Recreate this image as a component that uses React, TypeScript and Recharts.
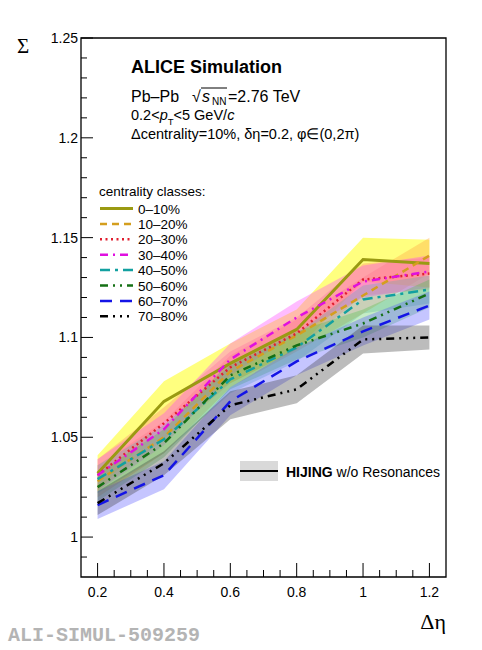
import {
  ComposedChart,
  Line,
  Area,
  XAxis,
  YAxis,
  ReferenceArea,
} from 'recharts';

// Δη gap values
const etaGaps = [0.2, 0.4, 0.6, 0.8, 1.0, 1.2];

// Σ per centrality class
const sigma0to10 = [1.032, 1.068, 1.087, 1.104, 1.139, 1.137];
const sigma10to20 = [1.028, 1.050, 1.083, 1.101, 1.121, 1.141];
const sigma20to30 = [1.031, 1.057, 1.085, 1.102, 1.129, 1.132];
const sigma30to40 = [1.031, 1.054, 1.089, 1.110, 1.128, 1.133];
const sigma40to50 = [1.029, 1.049, 1.079, 1.095, 1.119, 1.124];
const sigma50to60 = [1.025, 1.047, 1.081, 1.096, 1.107, 1.122];
const sigma60to70 = [1.016, 1.031, 1.068, 1.088, 1.103, 1.116];
const sigma70to80 = [1.017, 1.037, 1.066, 1.074, 1.099, 1.100];

// half-widths of the shaded bands
const err0to10 = [0.009, 0.010, 0.010, 0.010, 0.011, 0.012];
const err10to20 = [0.008, 0.008, 0.008, 0.008, 0.009, 0.009];
const err20to30 = [0.008, 0.008, 0.008, 0.008, 0.008, 0.008];
const err30to40 = [0.008, 0.008, 0.008, 0.008, 0.008, 0.008];
const err40to50 = [0.007, 0.007, 0.007, 0.007, 0.007, 0.007];
const err50to60 = [0.007, 0.007, 0.007, 0.007, 0.007, 0.007];
const err60to70 = [0.007, 0.007, 0.007, 0.007, 0.007, 0.007];
const err70to80 = [0.006, 0.006, 0.007, 0.007, 0.007, 0.006];

const classLabels = ['0–10%', '10–20%', '20–30%', '30–40%', '40–50%', '50–60%', '60–70%', '70–80%'];

const yMajorTicks = [1, 1.05, 1.1, 1.15, 1.2, 1.25];
const yTickLabels = ['1', '1.05', '1.1', '1.15', '1.2', '1.25'];
const xMajorTicks = [0.2, 0.4, 0.6, 0.8, 1.0, 1.2];
const xTickLabels = ['0.2', '0.4', '0.6', '0.8', '1', '1.2'];

const classes = [
  { values: sigma0to10, err: err0to10, color: '#9a9a12', dash: undefined, width: 3, band: '#ffff00', op: 0.5 },
  { values: sigma10to20, err: err10to20, color: '#d49e1e', dash: '7 5', width: 2.5, band: '#ffa040', op: 0.35 },
  { values: sigma20to30, err: err20to30, color: '#e01e2e', dash: '2 3.5', width: 2.5, band: '#ff7070', op: 0.3 },
  { values: sigma30to40, err: err30to40, color: '#e010e0', dash: '8 5 2 5', width: 2.5, band: '#ff40ff', op: 0.35 },
  { values: sigma40to50, err: err40to50, color: '#12a0a0', dash: '10 5 3 5', width: 2.5, band: '#50b0b0', op: 0.3 },
  { values: sigma50to60, err: err50to60, color: '#157015', dash: '8 5 2 5 2 5', width: 2.5, band: '#40c040', op: 0.3 },
  { values: sigma60to70, err: err60to70, color: '#1414e6', dash: '12 8', width: 2.5, band: '#5050ff', op: 0.33 },
  { values: sigma70to80, err: err70to80, color: '#000000', dash: '8 5 2 5 2 5 2 5', width: 2.5, band: '#404040', op: 0.35 },
];

const rows = etaGaps.map((eta, i) => {
  const row: Record<string, any> = { eta };
  classes.forEach((c, k) => {
    row['s' + k] = c.values[i];
    row['b' + k] = [c.values[i] - c.err[i], c.values[i] + c.err[i]];
  });
  return row;
});

const steps = (from: number, to: number, step: number) => {
  const out: number[] = [];
  for (let v = from; v <= to + 1e-9; v += step) out.push(Math.round(v * 1000) / 1000);
  return out;
};
const yTicks = steps(0.99, 1.25, 0.01);
const xTicks = steps(0.2, 1.2, 0.05);

const near = (a: number, b: number) => Math.abs(a - b) < 1e-6;
const sans = 'Liberation Sans, Arial, sans-serif';
const serif = 'Liberation Serif, Times New Roman, serif';

const YTick = ({ x, y, payload }: any) => {
  const idx = yMajorTicks.findIndex((t) => near(t, payload.value));
  const major = idx >= 0;
  return (
    <g>
      <line x1={x} x2={x + (major ? 12 : 6)} y1={y} y2={y} stroke="#000" strokeWidth={1} />
      {major && (
        <text x={x - 3} y={y + 5} textAnchor="end" fontFamily={sans} fontSize={14} fill="#000">
          {yTickLabels[idx]}
        </text>
      )}
    </g>
  );
};

const XTick = ({ x, y, payload }: any) => {
  const idx = xMajorTicks.findIndex((t) => near(t, payload.value));
  const major = idx >= 0;
  return (
    <g>
      <line x1={x} x2={x} y1={y} y2={y - (major ? 14 : 7)} stroke="#000" strokeWidth={1} />
      {major && (
        <text x={x} y={y + 20} textAnchor="middle" fontFamily={sans} fontSize={14} fill="#000">
          {xTickLabels[idx]}
        </text>
      )}
    </g>
  );
};

function Overlay() {
  const legendTop = 208.5;
  const legendStep = 15.4;
  return (
    <svg
      width={482}
      height={650}
      style={{ position: 'absolute', left: 0, top: 0, pointerEvents: 'none' }}
    >
      <text x={17} y={53} fontFamily={serif} fontSize={21}>Σ</text>
      <text x={446} y={629} textAnchor="end" fontFamily={serif} fontSize={22}>Δη</text>

      <text x={131} y={73} fontFamily={sans} fontSize={18} fontWeight="bold">ALICE Simulation</text>
      <text x={131} y={102} fontFamily={sans} fontSize={16}>Pb–Pb</text>
      <text x={192} y={102} fontFamily={sans} fontSize={16}>√</text>
      <line x1={201} x2={227} y1={88} y2={88} stroke="#000" strokeWidth={1} />
      <text x={202} y={102} fontFamily={sans} fontSize={16} fontStyle="italic">s</text>
      <text x={212} y={105} fontFamily={sans} fontSize={10}>NN</text>
      <text x={228} y={102} fontFamily={sans} fontSize={16}>=2.76 TeV</text>

      <text x={131} y={120} fontFamily={sans} fontSize={14.5}>
        0.2&lt;<tspan fontStyle="italic">p</tspan>
        <tspan fontSize={9.5} dy={5}>T</tspan>
        <tspan dy={-5}>&lt;5 GeV/</tspan>
        <tspan fontStyle="italic">c</tspan>
      </text>
      <text x={131} y={139} fontFamily={sans} fontSize={14.5}>Δcentrality=10%, δη=0.2, φ∈(0,2π)</text>

      <text x={99} y={196} fontFamily={sans} fontSize={13.5}>centrality classes:</text>
      {classes.map((c, k) => {
        const cy = legendTop + k * legendStep;
        return (
          <g key={k}>
            <line
              x1={100}
              x2={133}
              y1={cy}
              y2={cy}
              stroke={c.color}
              strokeWidth={c.width}
              strokeDasharray={c.dash}
            />
            <text x={138} y={cy + 5} fontFamily={sans} fontSize={13.5}>{classLabels[k]}</text>
          </g>
        );
      })}

      <rect x={240} y={461} width={38} height={20} fill="#cfcfcf" fillOpacity={0.8} />
      <line x1={240} x2={278} y1={471} y2={471} stroke="#000" strokeWidth={2} />
      <text x={286} y={477} fontFamily={sans} fontSize={14}>
        <tspan fontWeight="bold">HIJING</tspan> w/o Resonances
      </text>

      <text x={8} y={641} fontFamily="Liberation Mono, Courier New, monospace" fontSize={20} fontWeight="bold" fill="#b4b4b4">
        ALI-SIMUL-509259
      </text>
    </svg>
  );
}

export default function App() {
  return (
    <div style={{ position: 'absolute', left: 0, top: 0, width: 482, height: 650, background: '#fff' }}>
      <ComposedChart width={482} height={650} data={rows} margin={{ top: 38, right: 36, left: 0, bottom: 0 }}>
        <XAxis
          dataKey="eta"
          type="number"
          domain={[0.15, 1.25]}
          ticks={xTicks}
          interval={0}
          allowDataOverflow
          axisLine={false}
          tickLine={false}
          tickSize={0}
          tickMargin={0}
          height={73}
          tick={<XTick />}
        />
        <YAxis
          type="number"
          domain={[0.98, 1.25]}
          ticks={yTicks}
          interval={0}
          allowDataOverflow
          axisLine={false}
          tickLine={false}
          tickSize={0}
          tickMargin={0}
          width={81}
          tick={<YTick />}
        />
        {classes.map((c, k) => (
          <Area
            key={'b' + k}
            type="linear"
            dataKey={'b' + k}
            stroke="none"
            fill={c.band}
            fillOpacity={c.op}
            isAnimationActive={false}
          />
        ))}
        {classes.map((c, k) => (
          <Line
            key={'s' + k}
            type="linear"
            dataKey={'s' + k}
            stroke={c.color}
            strokeWidth={c.width}
            strokeDasharray={c.dash}
            dot={false}
            isAnimationActive={false}
          />
        ))}
        <ReferenceArea x1={0.15} x2={1.25} y1={0.98} y2={1.25} stroke="#000" strokeWidth={1.3} fill="none" fillOpacity={0} />
      </ComposedChart>
      <Overlay />
    </div>
  );
}
